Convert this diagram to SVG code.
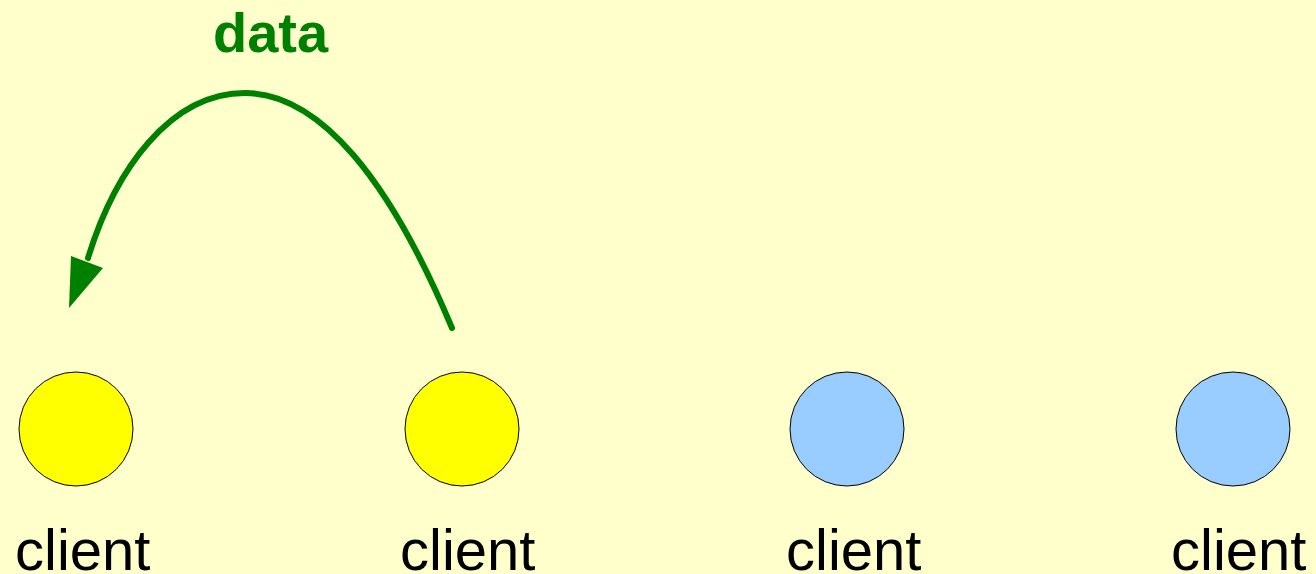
<svg xmlns="http://www.w3.org/2000/svg" width="1316" height="574" viewBox="0 0 1316 574">
<style>
.node circle{stroke:#000;stroke-width:1}
.yellow{fill:#FFFF00}
.blue{fill:#99CCFF}
.lbl{font-family:"Liberation Sans",Arial,sans-serif;font-size:58px;fill:#000}
.data{font-family:"Liberation Sans",Arial,sans-serif;font-size:56px;font-weight:bold;fill:#008000}
.conn{fill:none;stroke:#008000;stroke-width:6;stroke-linecap:round}
</style>
<rect width="1316" height="574" fill="#FFFFCC"/>
<g id="node1" class="node"><circle class="yellow" cx="76" cy="429" r="57"/><text class="lbl" x="15" y="570">client</text></g>
<g id="node2" class="node"><circle class="yellow" cx="462" cy="429" r="57"/><text class="lbl" x="400" y="570">client</text></g>
<g id="node3" class="node"><circle class="blue" cx="847" cy="429" r="57"/><text class="lbl" x="786" y="570">client</text></g>
<g id="node4" class="node"><circle class="blue" cx="1233" cy="429" r="57"/><text class="lbl" x="1171" y="570">client</text></g>
<g id="connectors">
<path class="conn" d="M452,328 C390,180 320,93 245,93 C170,93 115,170 88,258"/>
<polygon points="69,308 71,256 103,268" fill="#008000"/>
<text class="data" x="213" y="52">data</text>
</g>
</svg>
